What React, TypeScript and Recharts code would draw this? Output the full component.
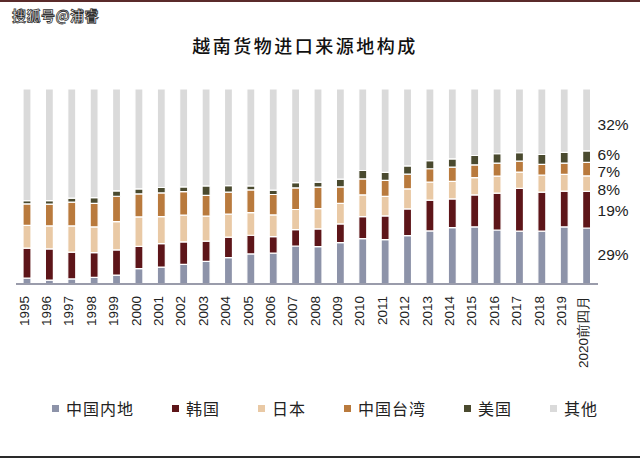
import React from 'react'
import { BarChart, Bar, XAxis, YAxis, LabelList } from 'recharts'

const years = [
  '1995', '1996', '1997', '1998', '1999', '2000', '2001', '2002', '2003',
  '2004', '2005', '2006', '2007', '2008', '2009', '2010', '2011', '2012',
  '2013', '2014', '2015', '2016', '2017', '2018', '2019', '2020前四月',
]

// shares of Vietnam's imports, %
const mainland = [
  3, 2, 2.6, 3.4, 4.6, 7.9, 8.7, 10.1, 11.6, 13.5, 15.4, 15.8, 19.5,
  19.2, 21.2, 23.3, 22.8, 24.8, 27.2, 28.9, 29.3, 27.7, 27.1, 27.1, 29.3, 29,
]
const korea = [
  15.4, 16, 13.7, 12.7, 12.9, 11.4, 12, 11.5, 10.4, 10.5, 9.6, 8.5, 8.4,
  9.1, 9.6, 11.3, 12.1, 13.7, 15.8, 14.8, 16.4, 18.9, 21.9, 20, 18.3, 19,
]
const japan = [
  11.7, 11.8, 13.5, 13.2, 14.5, 15.1, 13.9, 13.7, 12.8, 11.8, 11.6, 11.1, 10.3,
  10.4, 10.5, 11.1, 10, 10.3, 9.2, 8.9, 8.9, 8.7, 8.4, 8.7, 8.6, 8,
]
const taiwan = [
  11, 11.2, 12.2, 12, 13, 11.8, 12.1, 12.1, 10.7, 11.3, 11.7, 10.5, 11.1,
  11, 8.5, 8.2, 8.2, 7.5, 6.9, 7.3, 6.5, 6.7, 5.6, 5.5, 5.8, 7,
]
const usa = [
  1.6, 1.8, 2, 3, 2.8, 2.6, 2.8, 2.4, 4.8, 3.4, 2, 2.2, 2.7,
  2.5, 4, 4.3, 4.1, 4.3, 4.1, 4.3, 4.8, 4.8, 4.3, 5.1, 5.5, 6,
]
const others = [
  57.3, 57.2, 56, 55.7, 52.2, 51.2, 50.5, 50.2, 49.7, 49.5, 49.7, 51.9, 48,
  47.8, 46.2, 41.8, 42.8, 39.4, 36.8, 35.8, 34.1, 33.2, 32.7, 33.6, 32.5, 32,
]

const series = [
  { key: 'mainland', name: '中国内地', values: mainland, color: '#8d93a9', dy: -2 },
  { key: 'korea', name: '韩国', values: korea, color: '#5d1519', dy: 1 },
  { key: 'japan', name: '日本', values: japan, color: '#e9c9a5', dy: 6 },
  { key: 'taiwan', name: '中国台湾', values: taiwan, color: '#b97a3d', dy: 2 },
  { key: 'usa', name: '美国', values: usa, color: '#4a4a2f', dy: -2.5 },
  { key: 'others', name: '其他', values: others, color: '#dadada', dy: 5 },
]

const data = years.map((year, i) => {
  const row: Record<string, string | number> = { year }
  series.forEach((s) => {
    row[s.key] = s.values[i]
  })
  return row
})

const last = years.length - 1
const sans = 'Arial, "Liberation Sans", Helvetica, sans-serif'

const YearTick = (props: any) => {
  const { x, y, payload } = props
  return (
    <text
      transform={`translate(${x + 1.5},${y + 4}) rotate(-90)`}
      textAnchor='end'
      style={{ fontFamily: sans, fontSize: 13.5, fill: '#222' }}>
      {payload.value}
    </text>
  )
}

const endLabel = (s: (typeof series)[number]) => (props: any) => {
  const { x, y, width, height, index } = props
  if (index !== last) return null
  return (
    <text
      x={x + width + 7}
      y={y + height / 2 + s.dy}
      dominantBaseline='central'
      style={{ fontFamily: sans, fontSize: 15.5, fill: '#222' }}>
      {`${s.values[last]}%`}
    </text>
  )
}

export default function App() {
  return (
    <div
      style={{
        position: 'absolute',
        left: 0,
        top: 0,
        width: 640,
        height: 461,
        background: '#fff',
        overflow: 'hidden',
      }}>
      <div style={{ position: 'absolute', left: 0, top: 0, width: 640, height: 2, background: '#5a2a2a' }} />
      <div style={{ position: 'absolute', left: 0, top: 456, width: 640, height: 2, background: '#2a2a2a' }} />
      <div
        style={{
          position: 'absolute',
          left: 12,
          top: 5,
          fontFamily: '"Noto Sans CJK SC", sans-serif',
          fontWeight: 700,
          fontSize: 14,
          color: '#fff',
          WebkitTextStroke: '0.8px #333',
          letterSpacing: 0.5,
        }}>
        搜狐号@浦睿
      </div>
      <div
        style={{
          position: 'absolute',
          left: 0,
          top: 32,
          width: 610,
          textAlign: 'center',
          fontFamily: '"Noto Sans CJK SC", serif',
          fontWeight: 500,
          fontSize: 18,
          letterSpacing: 2.5,
          color: '#111',
        }}>
        越南货物进口来源地构成
      </div>
      <BarChart
        width={640}
        height={461}
        data={data}
        stackOffset='expand'
        barSize={8}
        margin={{ top: 89, right: 42, left: 16, bottom: 0 }}>
        <XAxis
          dataKey='year'
          interval={0}
          height={177}
          tickLine={false}
          axisLine={{ stroke: '#9a9cab', strokeWidth: 2 }}
          tick={<YearTick />}
        />
        <YAxis hide domain={[0, 1]} />
        {series.map((s) => (
          <Bar
            key={s.key}
            dataKey={s.key}
            name={s.name}
            stackId='a'
            fill={s.color}
            stroke='#fff'
            strokeWidth={1.2}
            isAnimationActive={false}>
            <LabelList dataKey={s.key} content={endLabel(s)} />
          </Bar>
        ))}
      </BarChart>
      <div
        style={{
          position: 'absolute',
          left: 0,
          top: 396,
          width: 650,
          display: 'flex',
          justifyContent: 'center',
          alignItems: 'center',
          gap: 38,
          fontFamily: '"Noto Sans CJK SC", serif',
          fontSize: 16,
          color: '#222',
          letterSpacing: 1,
        }}>
        {series.map((s) => (
          <div key={s.key} style={{ display: 'flex', alignItems: 'center' }}>
            <span
              style={{
                width: 7,
                height: 7,
                background: s.color,
                marginRight: 7,
                display: 'inline-block',
              }}
            />
            {s.name}
          </div>
        ))}
      </div>
    </div>
  )
}
